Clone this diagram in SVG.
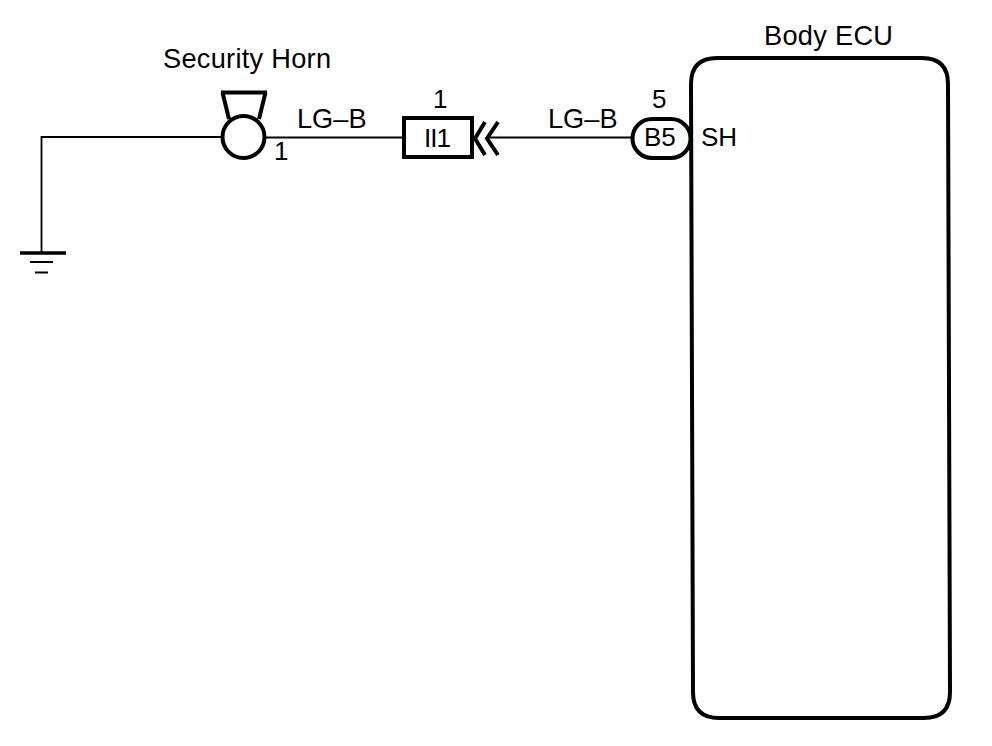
<svg xmlns="http://www.w3.org/2000/svg" width="992" height="746" viewBox="0 0 992 746">
<style>
text{font-family:"Liberation Sans",Arial,sans-serif;font-size:26px;fill:#000}
.l{font-size:27.200px}
.w{fill:none;stroke:#000;stroke-width:1.800}
.b{fill:none;stroke:#000;stroke-width:4}
.g{fill:#fff;stroke:#000;stroke-width:4}
</style>
<rect width="992" height="746" fill="#fff"/>
<g id="connectors">
<path class="w" d="M222 137H41.500V254"/>
<path class="w" d="M266 137.500H404"/>
<path class="w" d="M487 137.500H632"/>
<text class="l" x="297" y="128">LG–B</text>
<text class="l" x="548" y="128">LG–B</text>
</g>
<g id="ground">
<path d="M20 253H66" stroke="#000" stroke-width="3.500" fill="none"/>
<path d="M30 262H53M35 272.500H48" stroke="#000" stroke-width="2" fill="none"/>
</g>
<g id="security-horn">
<text class="l" x="163" y="68" textLength="168">Security Horn</text>
<path class="b" d="M221 92.500H267M222.500 92.500L229 119M265.500 92.500L259 119"/>
<circle class="g" cx="243.500" cy="137" r="21"/>
<text x="274" y="160">1</text>
</g>
<g id="connector-II1">
<text x="433" y="108">1</text>
<rect class="b" x="404" y="118" width="68" height="39"/>
<text x="424" y="147" textLength="27">II1</text>
<path class="b" d="M485 122L475 138.500L485 155M498 122L487 138.500L498 155"/>
</g>
<g id="connector-B5">
<text x="652" y="108">5</text>
<rect class="g" x="632.500" y="119" width="58" height="39" rx="19.500"/>
<text x="644" y="146">B5</text>
</g>
<g id="body-ecu">
<text class="l" x="764" y="45" textLength="129">Body ECU</text>
<path class="b" d="M691 84Q691 58 717 58H922Q948 58 948 84L950 692Q950 718 924 718H719Q693 718 693 692Z"/>
<text x="701" y="146">SH</text>
</g>
</svg>
